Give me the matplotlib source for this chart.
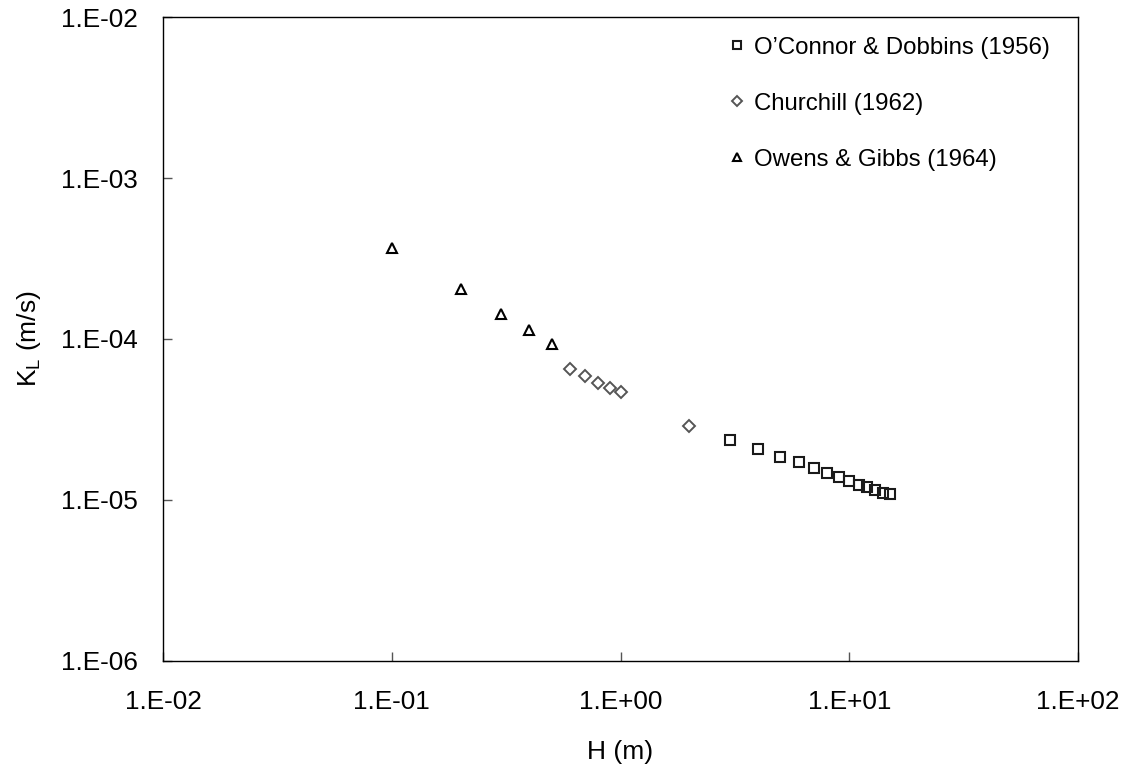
import numpy as np
import matplotlib
matplotlib.use('Agg')
import matplotlib.pyplot as plt
from matplotlib.ticker import FixedLocator, FuncFormatter, NullLocator

plt.rcParams['font.family'] = ['Liberation Sans', 'DejaVu Sans']
plt.rcParams['mathtext.fontset'] = 'custom'
plt.rcParams['mathtext.rm'] = 'Liberation Sans'

# data
h_oconnor = [3, 4, 5, 6, 7, 8, 9, 10, 11, 12, 13, 14, 15]
kl_oconnor = [2.37e-5, 2.06e-5, 1.85e-5, 1.71e-5, 1.58e-5, 1.46e-5, 1.38e-5,
              1.31e-5, 1.24e-5, 1.20e-5, 1.15e-5, 1.11e-5, 1.08e-5]

h_churchill = [0.6, 0.7, 0.8, 0.9, 1.0, 2.0]
kl_churchill = [6.5e-5, 5.85e-5, 5.35e-5, 4.95e-5, 4.66e-5, 2.88e-5]

h_owens = [0.1, 0.2, 0.3, 0.4, 0.5]
kl_owens = [3.7e-4, 2.04e-4, 1.43e-4, 1.13e-4, 9.3e-5]

labels = ["O\u2019Connor & Dobbins (1956)", "Churchill (1962)", "Owens & Gibbs (1964)"]

fig = plt.figure(figsize=(11.37, 7.69), dpi=100)
ax = fig.add_axes([0.1434, 0.1409, 0.8047, 0.8366])

ax.plot(h_oconnor, kl_oconnor, ls='none', marker='s', ms=6.5, mfc='none',
        mec='#1a1a1a', mew=1.5, label=labels[0])
ax.plot(h_churchill, kl_churchill, ls='none', marker='D', ms=5.8, mfc='none',
        mec='#555555', mew=1.4, label=labels[1])
ax.plot(h_owens, kl_owens, ls='none', marker='^', ms=7.5, mfc='none',
        mec='black', mew=1.5, label=labels[2])

ax.set_xscale('log')
ax.set_yscale('log')
ax.set_xlim(1e-2, 1e2)
ax.set_ylim(1e-6, 1e-2)

def sci_fmt(v, pos):
    e = int(round(np.log10(v)))
    return '1.E%s%02d' % ('+' if e >= 0 else '-', abs(e))

ax.xaxis.set_major_locator(FixedLocator([1e-2, 1e-1, 1e0, 1e1, 1e2]))
ax.yaxis.set_major_locator(FixedLocator([1e-6, 1e-5, 1e-4, 1e-3, 1e-2]))
ax.xaxis.set_minor_locator(NullLocator())
ax.yaxis.set_minor_locator(NullLocator())
ax.xaxis.set_major_formatter(FuncFormatter(sci_fmt))
ax.yaxis.set_major_formatter(FuncFormatter(sci_fmt))

ax.tick_params(which='major', direction='in', length=6.5, width=1,
               labelsize=18.8, color='#555555')
ax.tick_params(axis='x', pad=21)
ax.tick_params(axis='y', pad=18)
for sp in ax.spines.values():
    sp.set_color('black')
    sp.set_linewidth(1)

ax.set_xlabel('H (m)', fontsize=19, labelpad=19)
ax.set_ylabel('K$_\\mathregular{L}$ (m/s)', fontsize=19, labelpad=13)

leg = ax.legend(loc='upper right', frameon=False, fontsize=17.3, markerscale=0.8,
                handlelength=0.6, handletextpad=0.4, labelspacing=1.42,
                borderaxespad=0.4, bbox_to_anchor=(0.99, 1.0))

fig.savefig('out.png', dpi=100)
